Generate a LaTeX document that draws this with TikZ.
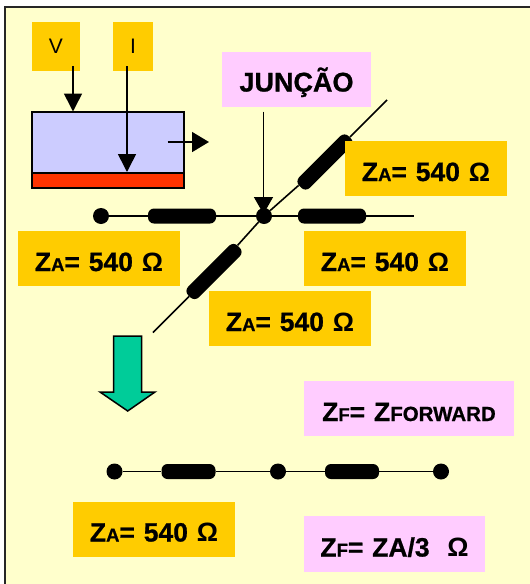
\documentclass[tikz,border=0pt]{standalone}
\usepackage{fontspec}
\setmainfont{Liberation Sans}[BoldFeatures={FakeBold=0.8}]
\newfontfamily\omgfam{Liberation Sans}
\usetikzlibrary{arrows.meta}
\definecolor{bgyellow}{HTML}{FFFFCC}
\definecolor{orangebox}{HTML}{FFCC00}
\definecolor{pinkbox}{HTML}{FFCCFF}
\definecolor{bluebox}{HTML}{CCCCFF}
\definecolor{redbox}{HTML}{FF3300}
\definecolor{greenarrow}{HTML}{00CC99}
\newcommand{\lrgf}{\fontsize{26.5}{26.5}\selectfont}
\newcommand{\smlf}{\fontsize{18.5}{18.5}\selectfont}
\newcommand{\omg}{{\omgfam\bfseries Ω}}
\newcommand{\drop}[1]{\raisebox{-12.5pt}[0pt][0pt]{\bfseries\lrgf #1}}
\newcommand{\zaval}{\drop{Z{\smlf A}=\,\,540\,\,\omg}}
\tikzset{
  x=1pt,y=-1pt,
  textbox/.style={inner sep=0pt,outer sep=0pt,align=center,font=\bfseries},
  orangelabel/.style={textbox,fill=orangebox,minimum width=162pt,minimum height=55pt},
  pinklabel/.style={textbox,fill=pinkbox},
  dot/.style={circle,fill=black,inner sep=0pt,minimum size=16pt},
  res/.style={rectangle,rounded corners=6pt,fill=black,inner sep=0pt,minimum width=68pt,minimum height=15pt},
  wire/.style={draw=black,line width=1.6pt},
  arr/.style={draw=black,line width=1.6pt,-{Triangle[length=18pt,width=18pt]}},
  block/.style={draw=black,line width=1.5pt,inner sep=0pt,minimum width=152pt}
}
\begin{document}
\begin{tikzpicture}
\useasboundingbox (0,0) rectangle (530,584);
\fill[white] (0,0) rectangle (530,584);
\fill[bgyellow] (5,7) rectangle (530,584);
\draw[line width=1.6pt,draw=black!85] (5,584) -- (5,7) -- (530,7);

% V / I
\node[fill=orangebox,inner sep=0pt,minimum width=48pt,minimum height=49pt,font=\fontsize{21}{21}\selectfont] (v) at (56,46.5) {V};
\node[fill=orangebox,inner sep=0pt,minimum width=40pt,minimum height=49pt,font=\fontsize{21}{21}\selectfont] (i) at (133,46.5) {I};

% transistor block
\node[block,fill=bluebox,minimum height=61pt] (blue) at (108,142.5) {};
\node[block,fill=redbox,minimum height=15pt] (red) at (108,180.5) {};
\coordinate (vs) at (73,66);
\coordinate (ve) at (73,111.5);
\coordinate (is) at (127,66);
\coordinate (ie) at (127,172);
\coordinate (os) at (167.5,142);
\coordinate (oe) at (209,142);
\draw[arr] (vs) -- (ve);
\draw[arr] (is) -- (ie);
\draw[draw=black,line width=1.6pt,-{Triangle[length=17pt,width=20pt]}] (os) -- (oe);

% top line network
\coordinate (dtop) at (387,100);
\coordinate (dbot) at (153,332.5);
\coordinate (hend) at (414,216);
\node[dot] (jn) at (264,216) {};
\node[dot] (d1) at (101,216) {};
\node[res] (r1) at (182,216) {};
\node[res] (r2) at (332,216) {};
\node[res,rotate=45,minimum width=70pt] (r3) at (214,271.5) {};
\node[res,rotate=45,minimum width=70pt] (r4) at (325,162) {};
\draw[wire] (d1) -- (r1);
\draw[wire] (r1) -- (jn);
\draw[wire] (jn) -- (r2);
\draw[wire] (r2) -- (hend);
\draw[wire] (dbot) -- (r3);
\draw[wire] (r3) -- (jn);
\draw[wire] (jn) -- (r4);
\draw[wire] (r4) -- (dtop);

% JUNCAO
\node[pinklabel,minimum width=149pt,minimum height=55pt,font=\bfseries\fontsize{27}{27}\selectfont] (jl) at (296.5,79.5) {\raisebox{-12pt}[0pt][0pt]{JUNÇÃO}};
\coordinate (js) at (263.5,111.5);
\coordinate (je) at (263.5,214);
\draw[draw=black,line width=1.6pt,-{Triangle[length=17pt,width=19pt]}] (js) -- (je);

% impedance labels
\node[orangelabel] (za1) at (426,168.5) {\zaval};
\node[orangelabel] (za2) at (99,258.5) {\zaval};
\node[orangelabel] (za3) at (385,258.5) {\zaval};
\node[orangelabel] (za4) at (290,318.5) {\zaval};

% green arrow
\draw[line width=1.5pt,fill=greenarrow,line join=miter] (113.5,336) -- (141.7,336) -- (141.7,392) -- (155,392) -- (127.7,411) -- (100,392) -- (113.5,392) -- cycle;

% ZF forward
\node[pinklabel,minimum width=210pt,minimum height=55pt] (zf) at (409,408.5) {\drop{Z{\smlf F}=\,\,Z{\fontsize{20.5}{20.5}\selectfont FORWARD}}};

% bottom line
\node[dot] (b1) at (114.5,471.5) {};
\node[dot] (b2) at (278,471.5) {};
\node[dot] (b3) at (441,471.5) {};
\node[res,minimum width=54pt] (br1) at (188.5,471.5) {};
\node[res,minimum width=54pt] (br2) at (352,471.5) {};
\draw[wire] (b1) -- (br1);
\draw[wire] (br1) -- (b2);
\draw[wire] (b2) -- (br2);
\draw[wire] (br2) -- (b3);

\node[orangelabel] (za5) at (154,529) {\zaval};
\node[pinklabel,minimum width=181pt,minimum height=56pt] (zf3) at (394.5,544) {\drop{Z{\smlf F}=\,\,ZA/3\,\,\,\,\omg}};
\end{tikzpicture}
\end{document}
